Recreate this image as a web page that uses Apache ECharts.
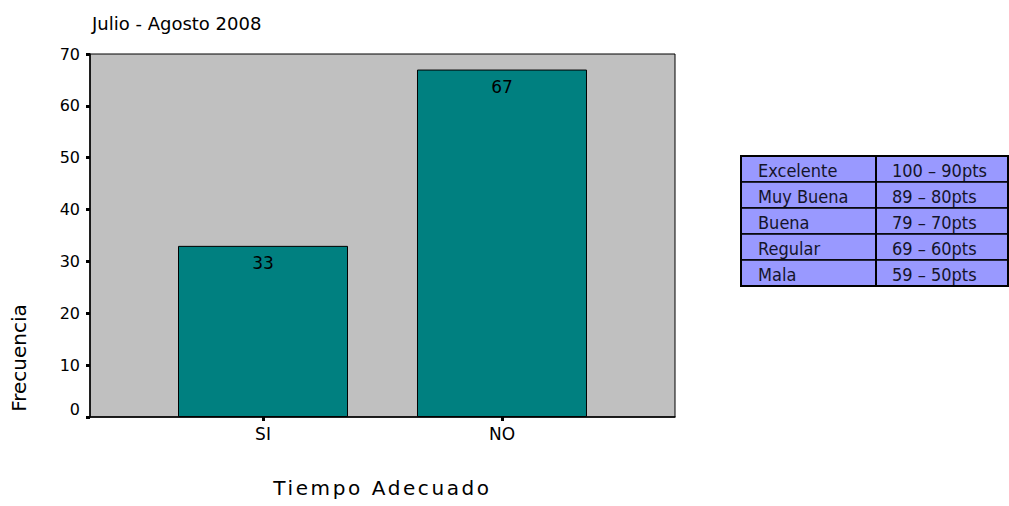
<!DOCTYPE html>
<html>
<head>
<meta charset="utf-8">
<script src="https://cdn.jsdelivr.net/npm/echarts@6/dist/echarts.min.js"></script>
<style>
  html, body { margin: 0; padding: 0; background: #fff; }
  #chart { width: 1009px; height: 506px; }
  /* the x-axis title is set with wide tracking */
  #chart text[style*="Verdana"] { letter-spacing: 2.6px; }
</style>
</head>
<body>
<div id="chart"></div>
<script>
// Frecuencia por respuesta
const categories = ['SI', 'NO'];
const frecuencias = [33, 67];
const yTicks = [0, 10, 20, 30, 40, 50, 60, 70];

// Escala de calificación
const escalaNombres = ['Excelente', 'Muy Buena', 'Buena', 'Regular', 'Mala'];
const escalaRangos = ['100 – 90pts', '89 – 80pts', '79 – 70pts', '69 – 60pts', '59 – 50pts'];

const FONT = '"DejaVu Sans"';
const WIDE = '"DejaVu Sans", Verdana';
const NARROW = '"Liberation Sans Narrow", "Arial Narrow", "DejaVu Sans Condensed", sans-serif';

const chart = echarts.init(document.getElementById('chart'), null, { renderer: 'svg' });

// Tabla de escala dibujada a la derecha
const tbl = { x: 741, y: 156, w: 267, rowH: 26, col: 135 };
const tableEls = [];
escalaNombres.forEach((n, i) => {
  tableEls.push({
    type: 'rect',
    shape: { x: tbl.x, y: tbl.y + i * tbl.rowH, width: tbl.w, height: tbl.rowH },
    style: { fill: '#9999ff', stroke: '#000', lineWidth: 1.5 }
  });
  tableEls.push({
    type: 'text', x: tbl.x + 17, y: tbl.y + i * tbl.rowH + tbl.rowH / 2 + 1,
    style: { text: n, font: '18px ' + NARROW, fill: '#14142a', verticalAlign: 'middle' }
  });
  tableEls.push({
    type: 'text', x: tbl.x + tbl.col + 16, y: tbl.y + i * tbl.rowH + tbl.rowH / 2 + 1,
    style: { text: escalaRangos[i], font: '18px ' + NARROW, fill: '#14142a', verticalAlign: 'middle' }
  });
});
tableEls.push({
  type: 'line',
  shape: { x1: tbl.x + tbl.col, y1: tbl.y, x2: tbl.x + tbl.col, y2: tbl.y + tbl.rowH * escalaNombres.length },
  style: { stroke: '#000', lineWidth: 2 }
});
tableEls.push({
  type: 'rect',
  shape: { x: tbl.x, y: tbl.y, width: tbl.w, height: tbl.rowH * escalaNombres.length },
  style: { fill: 'none', stroke: '#000', lineWidth: 2 }
});

chart.setOption({
  animation: false,
  backgroundColor: '#ffffff',
  title: {
    text: 'Julio - Agosto 2008',
    left: 87, top: 9,
    textStyle: { fontFamily: FONT, fontSize: 18, fontWeight: 'normal', color: '#000' }
  },
  grid: {
    left: 90, right: 334, top: 54, bottom: 89,
    outerBoundsMode: 'none', containLabel: false,
    show: true, backgroundColor: '#c0c0c0', borderColor: '#000', borderWidth: 1
  },
  xAxis: {
    type: 'value',
    min: -0.724, max: 1.724,
    name: 'Tiempo Adecuado',
    nameLocation: 'middle', nameGap: 61,
    nameTextStyle: { fontFamily: WIDE, fontSize: 20, color: '#000' },
    axisLine: { show: true, onZero: false, lineStyle: { color: '#000', width: 1.5 } },
    axisTick: { show: true, customValues: [0, 1], length: 4, lineStyle: { color: '#000', width: 3 } },
    axisLabel: {
      customValues: [0, 1],
      formatter: v => categories[Math.round(v)] || '',
      fontFamily: FONT, fontSize: 17, color: '#000', margin: 8
    },
    splitLine: { show: false }
  },
  yAxis: {
    type: 'value',
    min: 0, max: 70, interval: 10,
    axisLine: { show: true, onZero: false, lineStyle: { color: '#000', width: 1.5 } },
    axisTick: { show: true, length: 4, lineStyle: { color: '#000', width: 3 } },
    axisLabel: {
      fontFamily: FONT, fontSize: 16, color: '#000', margin: 10,
      formatter: v => v === 0 ? '{z|0}' : (yTicks.includes(v) ? String(v) : ''),
      rich: { z: { fontFamily: FONT, fontSize: 16, color: '#000', padding: [0, 0, 16, 0] } }
    },
    splitLine: { show: false }
  },
  series: [{
    type: 'bar',
    data: frecuencias.map((v, i) => [i, v]),
    barWidth: 170,
    itemStyle: { color: '#008080', borderColor: '#000', borderWidth: 1 },
    label: {
      show: true, position: 'insideTop', distance: 9,
      formatter: p => String(p.value[1]),
      fontFamily: FONT, fontSize: 17, color: '#000'
    }
  }],
  graphic: [
    {
      type: 'text', x: 19, y: 358, rotation: Math.PI / 2,
      style: { text: 'Frecuencia', font: '20px ' + FONT, fill: '#000', align: 'center', verticalAlign: 'middle' }
    },
    ...tableEls
  ]
});
</script>
</body>
</html>
